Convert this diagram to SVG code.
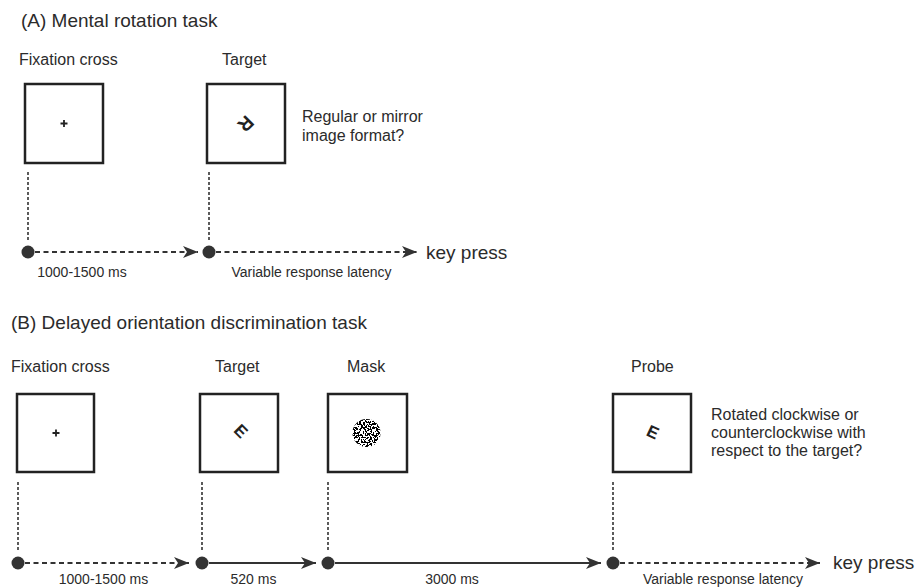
<svg xmlns="http://www.w3.org/2000/svg" width="917" height="587" viewBox="0 0 917 587">
<style>
text{font-family:"Liberation Sans",Arial,sans-serif;fill:#2b2b2b}
.title{font-size:19px}
.lbl{font-size:16px}
.tm{font-size:14px;text-anchor:middle}
.kp{font-size:19px}
.box{fill:#fff;stroke:#222;stroke-width:2.5}
.vdot{stroke:#333;stroke-width:1.6;stroke-dasharray:3 2;fill:none}
.dash{stroke:#333;stroke-width:2;stroke-dasharray:5 3.5;fill:none}
.solid{stroke:#333;stroke-width:2;fill:none}
.dot{fill:#333}
.glyph{font-weight:bold;text-anchor:middle;fill:#222}
.fix{stroke:#222;stroke-width:1.8}
</style>
<defs>
<marker id="ah" markerUnits="userSpaceOnUse" markerWidth="15" markerHeight="12" refX="15" refY="6" orient="auto">
<path d="M0,0 L15,6 L0,12 L4,6 Z" fill="#333"/>
</marker>
<filter id="noise" x="0" y="0" width="100%" height="100%">
<feTurbulence type="fractalNoise" baseFrequency="0.55" numOctaves="2" seed="7" result="t"/>
<feColorMatrix in="t" type="matrix" values="0 0 0 0 0  0 0 0 0 0  0 0 0 0 0  -3 0 0 0 2" result="a"/>
<feComponentTransfer in="a" result="b"><feFuncA type="discrete" tableValues="0 1"/></feComponentTransfer>
<feComposite in="b" in2="SourceGraphic" operator="in"/>
</filter>
</defs>

<!-- Panel A -->
<text class="title" x="21" y="27">(A) Mental rotation task</text>

<g id="a-fixation">
<text class="lbl" x="19" y="65">Fixation cross</text>
<rect class="box" x="25" y="84" width="78" height="79"/>
<path class="fix" d="M60.5,123.5h7M64,120v7"/>
</g>

<g id="a-target">
<text class="lbl" x="222" y="65">Target</text>
<rect class="box" x="207" y="84" width="78" height="79"/>
<text class="glyph" font-size="19" transform="translate(246,124) rotate(135)" y="7">R</text>
<text class="lbl" x="302" y="122">Regular or mirror</text>
<text class="lbl" x="302" y="141">image format?</text>
</g>

<g id="a-connectors">
<line class="vdot" x1="28" y1="172" x2="28" y2="241"/>
<line class="vdot" x1="209" y1="172" x2="209" y2="241"/>
<line class="dash" x1="35" y1="252" x2="198" y2="252" marker-end="url(#ah)"/>
<line class="dash" x1="216" y1="252" x2="417" y2="252" marker-end="url(#ah)"/>
<circle class="dot" cx="28" cy="252" r="6.5"/>
<circle class="dot" cx="209" cy="252" r="6.5"/>
</g>
<text class="kp" x="426" y="259">key press</text>
<text class="tm" x="82" y="277">1000-1500 ms</text>
<text class="tm" x="311.5" y="277">Variable response latency</text>

<!-- Panel B -->
<text class="title" x="11" y="329">(B) Delayed orientation discrimination task</text>

<g id="b-fixation">
<text class="lbl" x="11" y="372">Fixation cross</text>
<rect class="box" x="17" y="394" width="77" height="78"/>
<path class="fix" d="M52.5,433h7M56,429.5v7"/>
</g>

<g id="b-target">
<text class="lbl" x="215" y="372">Target</text>
<rect class="box" x="200" y="394" width="78" height="78"/>
<text class="glyph" font-size="17" transform="translate(241,431) rotate(45)" y="6">E</text>
</g>

<g id="b-mask">
<text class="lbl" x="347" y="372">Mask</text>
<rect class="box" x="328" y="394" width="79" height="78"/>
<circle cx="366.5" cy="433" r="14" fill="#000" filter="url(#noise)"/>
</g>

<g id="b-probe">
<text class="lbl" x="631" y="372">Probe</text>
<rect class="box" x="613" y="394" width="78" height="78"/>
<text class="glyph" font-size="17" transform="translate(653,432) rotate(25)" y="6">E</text>
<text class="lbl" x="711" y="420">Rotated clockwise or</text>
<text class="lbl" x="711" y="438">counterclockwise with</text>
<text class="lbl" x="711" y="456">respect to the target?</text>
</g>

<g id="b-connectors">
<line class="vdot" x1="18" y1="482" x2="18" y2="552"/>
<line class="vdot" x1="202" y1="482" x2="202" y2="552"/>
<line class="vdot" x1="328" y1="482" x2="328" y2="552"/>
<line class="vdot" x1="613" y1="482" x2="613" y2="552"/>
<line class="dash" x1="25" y1="563" x2="189" y2="563" marker-end="url(#ah)"/>
<line class="solid" x1="209" y1="563" x2="316" y2="563" marker-end="url(#ah)"/>
<line class="solid" x1="335" y1="563" x2="601" y2="563" marker-end="url(#ah)"/>
<line class="dash" x1="620" y1="563" x2="820" y2="563" marker-end="url(#ah)"/>
<circle class="dot" cx="18" cy="563" r="6.5"/>
<circle class="dot" cx="202" cy="563" r="6.5"/>
<circle class="dot" cx="328" cy="563" r="6.5"/>
<circle class="dot" cx="613" cy="563" r="6.5"/>
</g>
<text class="kp" x="833" y="569">key press</text>
<text class="tm" x="103.5" y="584">1000-1500 ms</text>
<text class="tm" x="253.5" y="584">520 ms</text>
<text class="tm" x="452" y="584">3000 ms</text>
<text class="tm" x="723" y="584">Variable response latency</text>
</svg>
